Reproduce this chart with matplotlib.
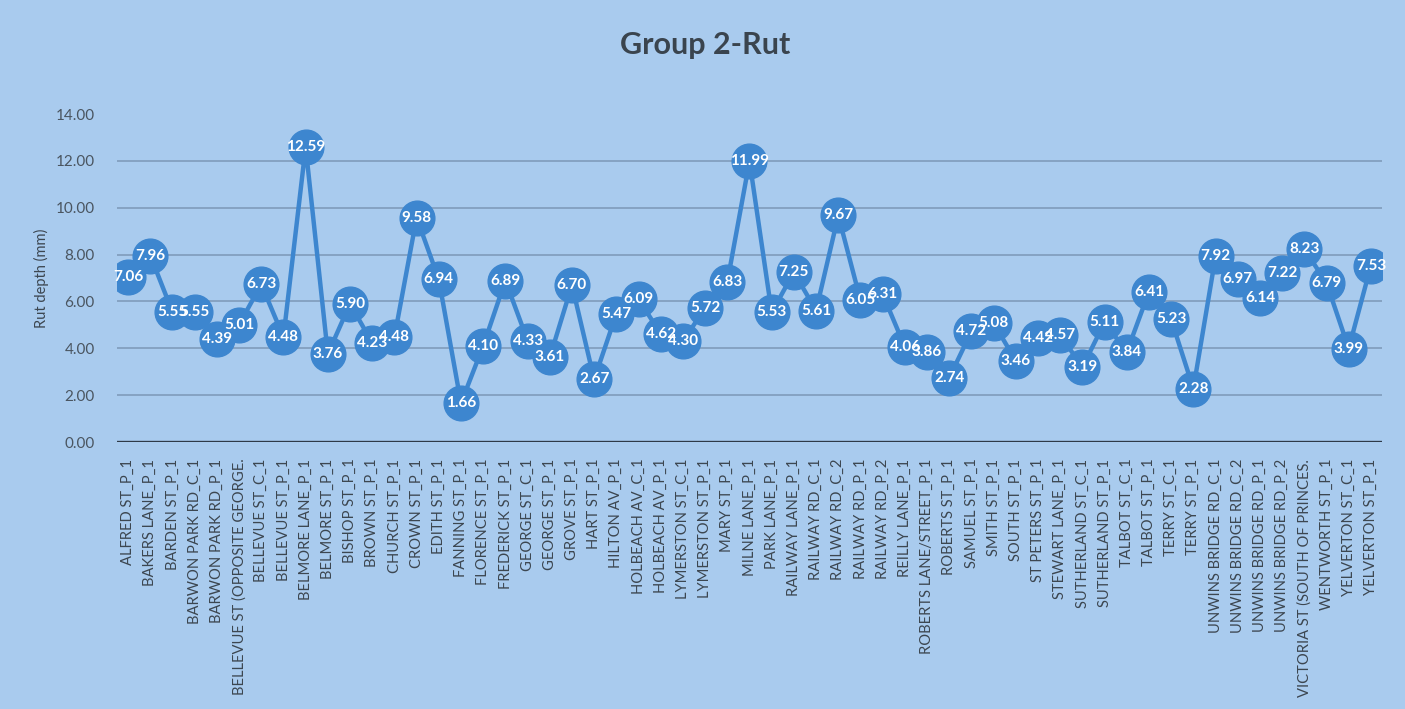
import matplotlib
matplotlib.use("Agg")
import matplotlib.pyplot as plt

# rut depth per street segment (mm)
streets = [
    "ALFRED ST_P_1", "BAKERS LANE_P_1", "BARDEN ST_P_1", "BARWON PARK RD_C_1",
    "BARWON PARK RD_P_1", "BELLEVUE ST (OPPOSITE GEORGE.", "BELLEVUE ST_C_1",
    "BELLEVUE ST_P_1", "BELMORE LANE_P_1", "BELMORE ST_P_1", "BISHOP ST_P_1",
    "BROWN ST_P_1", "CHURCH ST_P_1", "CROWN ST_P_1", "EDITH ST_P_1",
    "FANNING ST_P_1", "FLORENCE ST_P_1", "FREDERICK ST_P_1", "GEORGE ST_C_1",
    "GEORGE ST_P_1", "GROVE ST_P_1", "HART ST_P_1", "HILTON AV_P_1",
    "HOLBEACH AV_C_1", "HOLBEACH AV_P_1", "LYMERSTON ST_C_1", "LYMERSTON ST_P_1",
    "MARY ST_P_1", "MILNE LANE_P_1", "PARK LANE_P_1", "RAILWAY LANE_P_1",
    "RAILWAY RD_C_1", "RAILWAY RD_C_2", "RAILWAY RD_P_1", "RAILWAY RD_P_2",
    "REILLY LANE_P_1", "ROBERTS LANE/STREET_P_1", "ROBERTS ST_P_1",
    "SAMUEL ST_P_1", "SMITH ST_P_1", "SOUTH ST_P_1", "ST PETERS ST_P_1",
    "STEWART LANE_P_1", "SUTHERLAND ST_C_1", "SUTHERLAND ST_P_1",
    "TALBOT ST_C_1", "TALBOT ST_P_1", "TERRY ST_C_1", "TERRY ST_P_1",
    "UNWINS BRIDGE RD_C_1", "UNWINS BRIDGE RD_C_2", "UNWINS BRIDGE RD_P_1",
    "UNWINS BRIDGE RD_P_2", "VICTORIA ST (SOUTH OF PRINCES.", "WENTWORTH ST_P_1",
    "YELVERTON ST_C_1", "YELVERTON ST_P_1",
]
rut = [
    7.06, 7.96, 5.55, 5.55, 4.39, 5.01, 6.73, 4.48, 12.59, 3.76,
    5.90, 4.23, 4.48, 9.58, 6.94, 1.66, 4.10, 6.89, 4.33, 3.61,
    6.70, 2.67, 5.47, 6.09, 4.62, 4.30, 5.72, 6.83, 11.99, 5.53,
    7.25, 5.61, 9.67, 6.05, 6.31, 4.06, 3.86, 2.74, 4.72, 5.08,
    3.46, 4.42, 4.57, 3.19, 5.11, 3.84, 6.41, 5.23, 2.28, 7.92,
    6.97, 6.14, 7.22, 8.23, 6.79, 3.99, 7.53,
]
yticks = [0, 2, 4, 6, 8, 10, 12, 14]

bg = "#a9cbee"
blue = "#3d86cf"
font = ["Lato", "DejaVu Sans"]
plt.rcParams["font.family"] = font

fig = plt.figure(figsize=(14.05, 7.09), dpi=100, facecolor=bg)
ax = fig.add_axes([117 / 1405, 1 - 442 / 709, 1265 / 1405, 328 / 709])
ax.set_facecolor(bg)

x = list(range(len(rut)))
for t in yticks[1:-1]:
    ax.axhline(t, color="#7f9cbb", lw=1.2, zorder=0)
ax.axhline(0, color="#2e3a48", lw=2.4, zorder=1)

ax.plot(x, rut, color=blue, lw=3.2, marker="o", ms=25, mfc=blue, mec=blue, zorder=2)
for i, v in enumerate(rut):
    ax.text(i, v, "%.2f" % v, ha="center", va="center", color="white",
            fontsize=11, fontweight="bold", zorder=3)

ax.set_xlim(-0.5, len(rut) - 0.5)
ax.set_ylim(0, 14)
ax.set_yticks(yticks)
ax.set_yticklabels(["%.2f" % t for t in yticks], color="#4a5560", fontsize=11)
ax.set_xticks(x)
ax.set_xticklabels(streets, rotation=90, color="#3c4650", fontsize=10.6)
ax.tick_params(axis="both", length=0)
ax.tick_params(axis="x", pad=12)
ax.tick_params(axis="y", pad=16)
for s in ax.spines.values():
    s.set_visible(False)

ax.set_ylabel("Rut depth (mm)", color="#3c4650", fontsize=10.5, labelpad=5)
fig.text(705 / 1405, 1 - 45 / 709, "Group 2-Rut", ha="center", va="center",
         fontsize=22, fontweight="bold", color="#3a444e")

fig.savefig("out.png", dpi=100, facecolor=bg)
